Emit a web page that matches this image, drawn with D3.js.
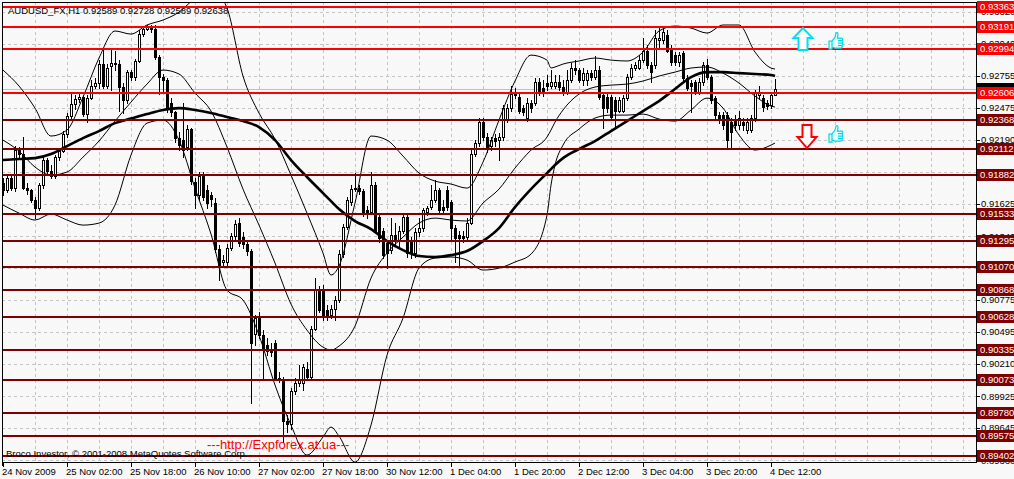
<!DOCTYPE html>
<html>
<head>
<meta charset="utf-8">
<script src="https://cdn.jsdelivr.net/npm/d3@7"></script>
<style>
  body { margin: 0; background: #f8f8f8; }
  svg { display: block; font-family: "Liberation Sans", Arial, sans-serif; }
</style>
</head>
<body>
<div id="chart"></div>
<script>
// AUDUSD H1 candles, one entry per bar (oldest first)
const chartTitle = "AUDUSD_FX,H1  0.92589 0.92728 0.92589 0.92638";
const copyright = "Broco Investor, \u00a9 2001-2008 MetaQuotes Software Corp.";
const watermark = "---http://Expforex.at.ua---";

const opens = [
  0.9181,0.9175,0.9185,0.9177,0.9210,0.9207,0.9177,0.9175,0.9166,0.9159,
  0.9179,0.9201,0.9192,0.9187,0.9204,0.9209,0.9224,0.9240,0.9251,0.9255,
  0.9257,0.9242,0.9256,0.9267,0.9269,0.9286,0.9267,0.9284,0.9287,0.9286,
  0.9266,0.9254,0.9279,0.9275,0.9289,0.9313,0.9317,0.9320,0.9317,0.9292,
  0.9275,0.9272,0.9252,0.9244,0.9221,0.9219,0.9213,0.9229,0.9182,0.9170,
  0.9187,0.9175,0.9170,0.9163,0.9123,0.9111,0.9111,0.9124,0.9134,0.9146,
  0.9133,0.9127,0.9121,0.9048,0.9062,0.9047,0.9038,0.9034,0.9040,0.9009,
  0.9008,0.8971,0.8968,0.8997,0.9004,0.9004,0.9017,0.9010,0.9052,0.9087,
  0.9086,0.9069,0.9064,0.9070,0.9078,0.9118,0.9142,0.9164,0.9176,0.9177,
  0.9174,0.9157,0.9155,0.9179,0.9151,0.9139,0.9128,0.9122,0.9135,0.9131,
  0.9139,0.9151,0.9131,0.9119,0.9138,0.9141,0.9155,0.9160,0.9166,0.9175,
  0.9160,0.9175,0.9164,0.9141,0.9135,0.9134,0.9133,0.9146,0.9207,0.9216,
  0.9235,0.9222,0.9214,0.9221,0.9219,0.9222,0.9237,0.9247,0.9260,0.9257,
  0.9247,0.9238,0.9252,0.9252,0.9270,0.9265,0.9269,0.9267,0.9267,0.9270,
  0.9266,0.9261,0.9272,0.9283,0.9281,0.9272,0.9272,0.9278,0.9275,0.9281,
  0.9259,0.9257,0.9257,0.9254,0.9245,0.9245,0.9256,0.9275,0.9283,0.9283,
  0.9290,0.9298,0.9285,0.9285,0.9307,0.9307,0.9312,0.9300,0.9294,0.9288,
  0.9296,0.9274,0.9269,0.9270,0.9261,0.9270,0.9285,0.9275,0.9256,0.9241,
  0.9241,0.9241,0.9235,0.9237,0.9232,0.9235,0.9228,0.9228,0.9238,0.9259,
  0.9256,0.9252,0.9250,0.92589
];
const highs = [
  0.9185,0.9188,0.9189,0.9214,0.9213,0.9222,0.9181,0.9176,0.9169,0.9181,
  0.9206,0.9203,0.9197,0.9206,0.9212,0.9227,0.9243,0.9260,0.9259,0.9261,
  0.9259,0.9259,0.9272,0.9274,0.9290,0.9300,0.9286,0.9300,0.9298,0.9290,
  0.9269,0.9281,0.9281,0.9291,0.9316,0.9320,0.9321,0.9321,0.9321,0.9294,
  0.9277,0.9274,0.9256,0.9245,0.9226,0.9252,0.9232,0.9230,0.9185,0.9191,
  0.9191,0.9179,0.9173,0.9168,0.9126,0.9117,0.9127,0.9137,0.9148,0.9150,
  0.9138,0.9131,0.9123,0.9064,0.9067,0.9051,0.9044,0.9040,0.9042,0.9014,
  0.9010,0.8976,0.9000,0.9009,0.9020,0.9021,0.9023,0.9055,0.9097,0.9090,
  0.9091,0.9073,0.9073,0.9081,0.9122,0.9145,0.9169,0.9179,0.9190,0.9179,
  0.9176,0.9161,0.9191,0.9182,0.9153,0.9141,0.9131,0.9150,0.9146,0.9143,
  0.9153,0.9153,0.9133,0.9141,0.9150,0.9159,0.9161,0.9179,0.9184,0.9177,
  0.9166,0.9178,0.9166,0.9144,0.9139,0.9139,0.9150,0.9210,0.9219,0.9238,
  0.9238,0.9225,0.9222,0.9224,0.9225,0.9250,0.9251,0.9267,0.9265,0.9261,
  0.9250,0.9256,0.9254,0.9274,0.9274,0.9272,0.9276,0.9281,0.9276,0.9276,
  0.9272,0.9281,0.9287,0.9290,0.9283,0.9283,0.9281,0.9281,0.9293,0.9284,
  0.9261,0.9260,0.9259,0.9257,0.9257,0.9259,0.9277,0.9286,0.9288,0.9294,
  0.9309,0.9303,0.9288,0.9316,0.9318,0.9320,0.9316,0.9303,0.9297,0.9297,
  0.9298,0.9276,0.9272,0.9272,0.9274,0.9288,0.9291,0.9276,0.9258,0.9244,
  0.9244,0.9244,0.9238,0.9241,0.9245,0.9238,0.9238,0.9241,0.9263,0.9267,
  0.9259,0.9254,0.9261,0.92728
];
const lows = [
  0.9170,0.9173,0.9175,0.9174,0.9203,0.9176,0.9171,0.9164,0.9150,0.9157,
  0.9177,0.9190,0.9185,0.9185,0.9201,0.9208,0.9222,0.9238,0.9246,0.9253,
  0.9240,0.9235,0.9255,0.9265,0.9265,0.9265,0.9265,0.9263,0.9281,0.9245,
  0.9243,0.9252,0.9272,0.9272,0.9288,0.9311,0.9316,0.9314,0.9291,0.9260,
  0.9261,0.9244,0.9240,0.9217,0.9210,0.9204,0.9210,0.9180,0.9159,0.9166,
  0.9166,0.9159,0.9161,0.9120,0.9095,0.9108,0.9109,0.9122,0.9131,0.9125,
  0.9124,0.9117,0.8987,0.9038,0.9044,0.9009,0.9029,0.9028,0.9007,0.9005,
  0.8952,0.8961,0.8964,0.8995,0.9002,0.8998,0.9007,0.9007,0.9051,0.9067,
  0.9060,0.9060,0.9062,0.9060,0.9076,0.9116,0.9140,0.9162,0.9174,0.9171,
  0.9152,0.9150,0.9154,0.9138,0.9129,0.9115,0.9106,0.9119,0.9127,0.9124,
  0.9137,0.9116,0.9115,0.9116,0.9134,0.9139,0.9153,0.9158,0.9164,0.9155,
  0.9154,0.9157,0.9131,0.9111,0.9107,0.9129,0.9131,0.9145,0.9205,0.9214,
  0.9219,0.9208,0.9210,0.9214,0.9201,0.9219,0.9235,0.9245,0.9256,0.9243,
  0.9241,0.9236,0.9244,0.9250,0.9259,0.9258,0.9263,0.9265,0.9265,0.9263,
  0.9259,0.9260,0.9270,0.9277,0.9270,0.9268,0.9268,0.9272,0.9273,0.9255,
  0.9230,0.9244,0.9237,0.9230,0.9244,0.9244,0.9254,0.9273,0.9281,0.9282,
  0.9288,0.9283,0.9270,0.9283,0.9300,0.9305,0.9297,0.9285,0.9285,0.9284,
  0.9272,0.9263,0.9244,0.9260,0.9260,0.9268,0.9273,0.9252,0.9238,0.9234,
  0.9229,0.9212,0.9212,0.9228,0.9229,0.9228,0.9225,0.9226,0.9236,0.9256,
  0.9245,0.9246,0.9247,0.92589
];
const closes = [
  0.9175,0.9185,0.9177,0.9210,0.9207,0.9177,0.9175,0.9166,0.9159,0.9179,
  0.9201,0.9192,0.9187,0.9204,0.9209,0.9224,0.9240,0.9251,0.9255,0.9257,
  0.9242,0.9256,0.9267,0.9269,0.9286,0.9267,0.9283,0.9287,0.9286,0.9266,
  0.9254,0.9279,0.9275,0.9289,0.9313,0.9317,0.9320,0.9317,0.9292,0.9275,
  0.9272,0.9247,0.9244,0.9221,0.9215,0.9210,0.9229,0.9183,0.9170,0.9187,
  0.9169,0.9163,0.9167,0.9123,0.9109,0.9113,0.9124,0.9134,0.9145,0.9128,
  0.9127,0.9121,0.9040,0.9062,0.9047,0.9034,0.9033,0.9032,0.9009,0.9008,
  0.8971,0.8968,0.8997,0.9004,0.9007,0.9018,0.9010,0.9052,0.9087,0.9069,
  0.9063,0.9064,0.9070,0.9078,0.9118,0.9142,0.9166,0.9176,0.9177,0.9174,
  0.9155,0.9155,0.9179,0.9139,0.9132,0.9117,0.9119,0.9135,0.9131,0.9139,
  0.9151,0.9119,0.9119,0.9138,0.9141,0.9157,0.9159,0.9166,0.9175,0.9157,
  0.9157,0.9160,0.9141,0.9132,0.9132,0.9132,0.9146,0.9207,0.9216,0.9235,
  0.9222,0.9212,0.9219,0.9218,0.9222,0.9247,0.9247,0.9260,0.9259,0.9245,
  0.9244,0.9252,0.9247,0.9270,0.9261,0.9261,0.9267,0.9270,0.9270,0.9266,
  0.9261,0.9272,0.9283,0.9281,0.9272,0.9278,0.9278,0.9275,0.9281,0.9257,
  0.9247,0.9247,0.9239,0.9245,0.9254,0.9256,0.9275,0.9283,0.9285,0.9290,
  0.9298,0.9285,0.9279,0.9309,0.9309,0.9314,0.9298,0.9288,0.9288,0.9294,
  0.9274,0.9265,0.9267,0.9261,0.9270,0.9285,0.9275,0.9254,0.9241,0.9237,
  0.9232,0.9219,0.9226,0.9232,0.9238,0.9232,0.9235,0.9238,0.9261,0.9261,
  0.9248,0.9249,0.9259,0.92638
];

// indicator readings, sampled at these bar numbers
const bandIdx = [
  0,4,8,12,16,20,24,28,32,36,40,44,48,52,56,60,64,68,72,76,80,82,
  84,88,92,96,100,104,108,112,116,120,124,128,132,136,137,138,
  140,144,148,152,156,160,164,168,172,176,180,184,188,192,193
];
const maSlow = [
  0.92013,0.92022,0.92030,0.92066,0.92136,0.92207,0.92269,0.92339,0.92379,0.92419,0.92455,
  0.92472,0.92455,0.92428,0.92393,0.92357,0.92304,0.92189,0.92013,0.91863,0.91721,0.91650,
  0.91580,0.91474,0.91403,0.91297,0.91217,0.91165,0.91156,0.91173,0.91209,0.91297,0.91412,
  0.91597,0.91756,0.91898,0.91933,0.91969,
  0.92030,0.92110,0.92181,0.92269,0.92357,0.92446,0.92534,0.92640,0.92746,0.92790,0.92790,
  0.92781,0.92773,0.92764,0.92755
];
const bbUpper = [
  0.92808,0.92667,0.92472,0.92225,0.92278,0.92569,0.92914,0.93153,0.93126,0.93206,0.93250,
  0.93320,0.93444,0.93533,0.93356,0.92755,0.92428,0.92198,0.91880,0.91544,0.91191,0.90997,
  0.91076,0.91633,0.92225,0.92189,0.92048,0.91898,0.91827,0.91801,0.91765,0.91995,0.92366,
  0.92711,0.92940,0.92896,0.92826,0.92835,
  0.92861,0.92888,0.92914,0.92896,0.92888,0.92967,0.93153,0.93197,0.93179,0.93135,0.93206,
  0.93206,0.92967,0.92826,0.92817
];
const bbMiddle = [
  0.92189,0.92092,0.91951,0.91880,0.91907,0.92039,0.92181,0.92357,0.92525,0.92684,0.92808,
  0.92773,0.92605,0.92446,0.92128,0.91756,0.91438,0.91103,0.90740,0.90510,0.90360,0.90334,
  0.90369,0.90546,0.90970,0.91191,0.91332,0.91456,0.91500,0.91483,0.91474,0.91633,0.91756,
  0.91942,0.92101,0.92216,0.92278,0.92348,
  0.92455,0.92596,0.92658,0.92675,0.92684,0.92711,0.92755,0.92790,0.92826,0.92835,0.92781,
  0.92693,0.92578,0.92490,0.92481
];
const bbLower = [
  0.91615,0.91544,0.91483,0.91536,0.91483,0.91438,0.91456,0.91615,0.92057,0.92339,0.92366,
  0.92189,0.91765,0.91359,0.90864,0.90776,0.90466,0.90025,0.89671,0.89406,0.89565,0.89653,
  0.89574,0.89344,0.89671,0.90289,0.90616,0.91058,0.91147,0.91156,0.91129,0.91041,0.91058,
  0.91112,0.91182,0.91526,0.91792,0.91969,
  0.92145,0.92286,0.92384,0.92410,0.92410,0.92419,0.92375,0.92357,0.92455,0.92560,0.92472,
  0.92234,0.92101,0.92145,0.92163
];

// horizontal levels drawn on the chart
const redLevels = [0.93363, 0.93191, 0.92994, 0.92606];
const maroonLevels = [0.92368, 0.92112, 0.91882, 0.91533, 0.91295, 0.91070, 0.90868,
                      0.90628, 0.90335, 0.90073, 0.89780, 0.89575, 0.89402];
const bidPrice = 0.92638;

const priceTicks = [0.93320, 0.93040, 0.92755, 0.92475, 0.92190, 0.91905, 0.91625, 0.91340,
                    0.91060, 0.90775, 0.90495, 0.90210, 0.89925, 0.89645, 0.89360];
const timeLabelIdx = [0, 16, 32, 48, 64, 80, 96, 112, 128, 144, 160, 176, 192];
const timeLabels = ["24 Nov 2009", "25 Nov 02:00", "25 Nov 18:00", "26 Nov 10:00", "27 Nov 02:00",
                    "27 Nov 18:00", "30 Nov 12:00", "1 Dec 04:00", "1 Dec 20:00", "2 Dec 12:00",
                    "3 Dec 04:00", "3 Dec 20:00", "4 Dec 12:00"];

// arrow / thumb objects placed in the shifted area
const signals = [
  { kind: "up", idx: 200, price: 0.93179 },
  { kind: "thumb", idx: 208, price: 0.93143 },
  { kind: "down", idx: 201, price: 0.92322 },
  { kind: "thumb", idx: 208, price: 0.92322 }
];

const W = 1014, H = 479;
const plot = { left: 2, top: 2, right: 976, bottom: 462 };

const x = d3.scaleLinear().domain([0, 193]).range([3, 775]);
const y = d3.scaleLinear().domain([0.89345, 0.93427]).range([plot.bottom, 0]);
const px = v => Math.round(v) + 0.5;

const svg = d3.select("#chart").append("svg")
  .attr("width", W).attr("height", H);

svg.append("rect").attr("width", W).attr("height", H).attr("fill", "#f8f8f8");

svg.append("clipPath").attr("id", "plotClip").append("rect")
  .attr("x", plot.left).attr("y", plot.top)
  .attr("width", plot.right - plot.left).attr("height", plot.bottom - plot.top);

// grid
const grid = svg.append("g")
  .attr("stroke", "#c4c4c4")
  .attr("stroke-dasharray", "3,3")
  .attr("shape-rendering", "crispEdges");
grid.selectAll("line.hgrid").data(priceTicks).join("line")
  .attr("class", "hgrid")
  .attr("x1", plot.left).attr("x2", plot.right)
  .attr("y1", d => px(y(d))).attr("y2", d => px(y(d)));
grid.selectAll("line.vgrid").data(d3.range(8, 241, 8)).join("line")
  .attr("class", "vgrid")
  .attr("x1", d => px(x(d))).attr("x2", d => px(x(d)))
  .attr("y1", plot.top).attr("y2", plot.bottom);

const body = svg.append("g").attr("clip-path", "url(#plotClip)");

// bid line
body.append("line")
  .attr("x1", plot.left).attr("x2", plot.right)
  .attr("y1", px(y(bidPrice))).attr("y2", px(y(bidPrice)))
  .attr("stroke", "#c0c0c0").attr("shape-rendering", "crispEdges");

// candles
const bars = d3.range(closes.length).map(i => ({
  i, o: opens[i], h: highs[i], l: lows[i], c: closes[i]
}));
const candles = body.append("g").attr("shape-rendering", "crispEdges");
candles.selectAll("line.wick").data(bars).join("line")
  .attr("class", "wick")
  .attr("x1", d => px(x(d.i))).attr("x2", d => px(x(d.i)))
  .attr("y1", d => Math.round(y(d.h))).attr("y2", d => Math.round(y(d.l)) + 1)
  .attr("stroke", "#000");
candles.selectAll("rect.body").data(bars).join("rect")
  .attr("class", "body")
  .attr("x", d => Math.round(x(d.i)) - 0.5)
  .attr("y", d => px(y(Math.max(d.o, d.c))))
  .attr("width", 2)
  .attr("height", d => Math.max(0, Math.round(y(Math.min(d.o, d.c))) - Math.round(y(Math.max(d.o, d.c)))))
  .attr("fill", d => d.c >= d.o ? "#fff" : "#000")
  .attr("stroke", "#000");

// indicators
const line = d3.line()
  .x(d => x(d[0])).y(d => y(d[1]))
  .curve(d3.curveMonotoneX);
const zipIdx = vals => bandIdx.map((b, k) => [b, vals[k]]);

[bbUpper, bbMiddle, bbLower].forEach(vals => {
  body.append("path")
    .attr("d", line(zipIdx(vals)))
    .attr("fill", "none").attr("stroke", "#000").attr("stroke-width", 1);
});
body.append("path")
  .attr("d", line(zipIdx(maSlow)))
  .attr("fill", "none").attr("stroke", "#000").attr("stroke-width", 2.6);

// horizontal levels
const levels = redLevels.map(v => ({ v, col: "#ff0000" }))
  .concat(maroonLevels.map(v => ({ v, col: "#800000" })));
body.selectAll("line.level").data(levels).join("line")
  .attr("class", "level")
  .attr("x1", plot.left).attr("x2", plot.right)
  .attr("y1", d => Math.round(y(d.v))).attr("y2", d => Math.round(y(d.v)))
  .attr("stroke", d => d.col).attr("stroke-width", 2)
  .attr("shape-rendering", "crispEdges");

// signal objects
const shapes = {
  up: "M0,0 L9.5,10 L4.5,10 L4.5,22 L-4.5,22 L-4.5,10 L-9.5,10 Z",
  down: "M-4.5,0 L4.5,0 L4.5,12 L9.5,12 L0,23 L-9.5,12 L-4.5,12 Z",
  thumb: "M-6,9 L-3,9 L-3,17 L-6,17 Z M-3,9 L0,5 L1,1 Q2.5,-0.5 3,2 L2.5,6 L7,6 Q8.5,7 7,8.5 " +
         "Q8.5,9.5 7,11 Q8.5,12 7,13.5 Q8,15 6,16 L0,16 L-3,15 Z M3,8.5 L7,8.5 M3,11 L7,11 M3,13.5 L7,13.5"
};
const sigColor = { up: "#00e0f0", down: "#ff0000", thumb: "#00d8e8" };
svg.selectAll("path.signal").data(signals).join("path")
  .attr("class", "signal")
  .attr("d", d => shapes[d.kind])
  .attr("transform", d => `translate(${x(d.idx)},${y(d.price)})`)
  .attr("fill", d => d.kind === "thumb" ? "#e6ffff" : "#ffffff")
  .attr("stroke", d => sigColor[d.kind])
  .attr("stroke-width", d => d.kind === "thumb" ? 1.2 : 2)
  .attr("stroke-linejoin", "miter");

// frame
const frame = svg.append("g").attr("stroke", "#000").attr("shape-rendering", "crispEdges");
frame.append("line").attr("x1", plot.left + 0.5).attr("x2", plot.left + 0.5).attr("y1", plot.top).attr("y2", plot.bottom + 4);
frame.append("line").attr("x1", plot.left).attr("x2", plot.right).attr("y1", plot.top + 0.5).attr("y2", plot.top + 0.5);
frame.append("line").attr("x1", plot.right + 0.5).attr("x2", plot.right + 0.5).attr("y1", plot.top).attr("y2", plot.bottom + 1);
frame.append("line").attr("x1", plot.left).attr("x2", plot.right + 1).attr("y1", plot.bottom + 0.5).attr("y2", plot.bottom + 0.5);

// texts in the chart
svg.append("text").attr("x", 8).attr("y", 14)
  .attr("font-size", 9.5).attr("fill", "#000").text(chartTitle);
svg.append("text").attr("x", 6).attr("y", 457)
  .attr("font-size", 9.5).attr("fill", "#000").text(copyright);
svg.append("text").attr("x", 207).attr("y", 449)
  .attr("font-size", 13).attr("fill", "#ff0000").text(watermark);

// price axis
const yAxis = svg.append("g");
yAxis.selectAll("line.ytick").data(priceTicks).join("line")
  .attr("class", "ytick")
  .attr("x1", plot.right).attr("x2", plot.right + 4)
  .attr("y1", d => px(y(d))).attr("y2", d => px(y(d)))
  .attr("stroke", "#000").attr("shape-rendering", "crispEdges");
yAxis.selectAll("text.ylab").data(priceTicks).join("text")
  .attr("class", "ylab")
  .attr("x", plot.right + 5).attr("y", d => y(d)).attr("dy", "0.35em")
  .attr("font-size", 9.5).attr("fill", "#000")
  .text(d => d3.format(".5f")(d));

// current price tag, then level tags on top
yAxis.append("rect")
  .attr("x", plot.right + 1).attr("y", Math.round(y(bidPrice)) - 6)
  .attr("width", W - plot.right).attr("height", 12).attr("fill", "#000");
yAxis.append("text")
  .attr("x", plot.right + 4).attr("y", y(bidPrice)).attr("dy", "0.35em")
  .attr("font-size", 9.5).attr("fill", "#fff").text(d3.format(".5f")(bidPrice));

const tags = yAxis.selectAll("g.tag").data(levels).join("g")
  .attr("class", "tag")
  .attr("transform", d => `translate(${plot.right + 1},${Math.round(y(d.v))})`);
tags.append("rect")
  .attr("x", 0).attr("y", -6).attr("width", W - plot.right).attr("height", 12)
  .attr("fill", d => d.col);
tags.append("text")
  .attr("x", 3).attr("y", 0).attr("dy", "0.35em")
  .attr("font-size", 9.5).attr("fill", "#fff")
  .text(d => d3.format(".5f")(d.v));

// time axis
const xAxis = svg.append("g");
xAxis.selectAll("line.xtick").data(timeLabelIdx).join("line")
  .attr("class", "xtick")
  .attr("x1", d => px(x(d))).attr("x2", d => px(x(d)))
  .attr("y1", plot.bottom).attr("y2", plot.bottom + 5)
  .attr("stroke", "#000").attr("shape-rendering", "crispEdges");
xAxis.selectAll("text.xlab").data(timeLabelIdx).join("text")
  .attr("class", "xlab")
  .attr("x", d => x(d) - 1).attr("y", plot.bottom + 13)
  .attr("font-size", 9.5).attr("fill", "#000")
  .text((d, k) => timeLabels[k]);
</script>
</body>
</html>
